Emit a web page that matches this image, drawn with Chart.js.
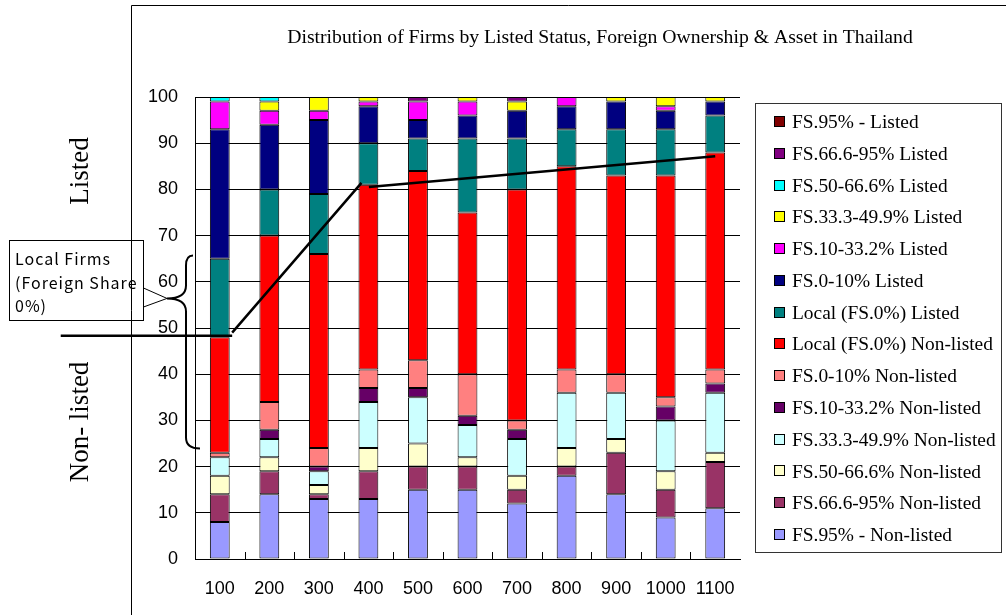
<!DOCTYPE html>
<html>
<head>
<meta charset="utf-8">
<script src="https://cdn.jsdelivr.net/npm/chart.js@4/dist/chart.umd.min.js"></script>
<style>
  html, body { margin: 0; padding: 0; background: #fff; }
</style>
</head>
<body>
<canvas id="grafico" width="1006" height="615"></canvas>
<script>
// categorias (ativo)
const categorias = ['100', '200', '300', '400', '500', '600', '700', '800', '900', '1000', '1100'];

// séries de baixo para cima (%)
const fs95NaoListada     = [8, 14, 13, 13, 15, 15, 12, 18, 14, 9, 11];
const fs666NaoListada    = [6, 5, 1, 6, 5, 5, 3, 2, 9, 6, 10];
const fs50NaoListada     = [4, 3, 2, 5, 5, 2, 3, 4, 3, 4, 2];
const fs333NaoListada    = [4, 4, 3, 10, 10, 7, 8, 12, 10, 11, 13];
const fs10NaoListada     = [0, 2, 1, 3, 2, 2, 2, 0, 0, 3, 2];
const fs0NaoListada      = [1, 6, 4, 4, 6, 9, 2, 5, 4, 2, 3];
const localNaoListada    = [25, 36, 42, 40, 41, 35, 50, 44, 43, 48, 47];
const localListada       = [17, 10, 13, 9, 7, 16, 11, 8, 10, 10, 8];
const fs0Listada         = [28, 14, 16, 8, 4, 5, 6, 5, 6, 4, 3];
const fs10Listada        = [6, 3, 2, 1, 4, 3, 0, 2, 0, 1, 0];
const fs333Listada       = [0, 2, 3, 1, 0, 1, 2, 0, 1, 2, 1];
const fs50Listada        = [1, 1, 0, 0, 0, 0, 0, 0, 0, 0, 0];
const fs666Listada       = [0, 0, 0, 0, 1, 0, 1, 0, 0, 0, 0];
const fs95Listada        = [0, 0, 0, 0, 0, 0, 0, 0, 0, 0, 0];

const yTicks = [0, 10, 20, 30, 40, 50, 60, 70, 80, 90, 100];

const titulo = 'Distribution of Firms by Listed Status, Foreign Ownership & Asset in Thailand';
const notaLocal = ['Local Firms', '(Foreign Share', '0%)'];

const series = [
  { label: 'FS.95% - Non-listed',       data: fs95NaoListada,  cor: '#9999FF' },
  { label: 'FS.66.6-95% Non-listed',    data: fs666NaoListada, cor: '#993366' },
  { label: 'FS.50-66.6% Non-listed',    data: fs50NaoListada,  cor: '#FFFFCC' },
  { label: 'FS.33.3-49.9% Non-listed',  data: fs333NaoListada, cor: '#CCFFFF' },
  { label: 'FS.10-33.2% Non-listed',    data: fs10NaoListada,  cor: '#660066' },
  { label: 'FS.0-10% Non-listed',       data: fs0NaoListada,   cor: '#FF8080' },
  { label: 'Local (FS.0%) Non-listed',  data: localNaoListada, cor: '#FF0000' },
  { label: 'Local (FS.0%) Listed',      data: localListada,    cor: '#008080' },
  { label: 'FS.0-10% Listed',           data: fs0Listada,      cor: '#000080' },
  { label: 'FS.10-33.2% Listed',        data: fs10Listada,     cor: '#FF00FF' },
  { label: 'FS.33.3-49.9% Listed',      data: fs333Listada,    cor: '#FFFF00' },
  { label: 'FS.50-66.6% Listed',        data: fs50Listada,     cor: '#00FFFF' },
  { label: 'FS.66.6-95% Listed',        data: fs666Listada,    cor: '#800080' },
  { label: 'FS.95% - Listed',           data: fs95Listada,     cor: '#800000' }
];

// desenhos extras: título, legenda, chave e linhas à mão
const extras = {
  id: 'extras',
  afterDraw(chart) {
    const ctx = chart.ctx;
    const sx = chart.scales.x, sy = chart.scales.y;
    const area = chart.chartArea;
    ctx.save();

    // moldura externa
    ctx.strokeStyle = '#000';
    ctx.lineWidth = 1;
    ctx.beginPath();
    ctx.moveTo(131.5, 615);
    ctx.lineTo(131.5, 5.5);
    ctx.lineTo(1006, 5.5);
    ctx.stroke();

    // título
    ctx.fillStyle = '#000';
    ctx.font = '19.7px "Liberation Serif"';
    ctx.textAlign = 'center';
    ctx.textBaseline = 'middle';
    ctx.fillText(titulo, 600, 38);

    // pequenos traços no eixo x
    ctx.beginPath();
    for (let i = 0; i < categorias.length - 1; i++) {
      const px = Math.round((sx.getPixelForValue(i) + sx.getPixelForValue(i + 1)) / 2) + 0.5;
      ctx.moveTo(px, area.bottom);
      ctx.lineTo(px, area.bottom - 7);
    }
    ctx.stroke();

    // legenda
    ctx.strokeStyle = '#333';
    ctx.strokeRect(755.5, 103.5, 246, 449);
    ctx.font = '19.4px "Liberation Serif"';
    ctx.textAlign = 'left';
    const itens = chart.data.datasets.slice().reverse();
    itens.forEach((ds, i) => {
      const cy = 122 + i * 31.77;
      ctx.fillStyle = ds.backgroundColor;
      ctx.fillRect(774, Math.round(cy - 6), 11, 11);
      ctx.strokeStyle = '#000';
      ctx.strokeRect(774.5, Math.round(cy - 6) + 0.5, 10, 10);
      ctx.fillStyle = '#000';
      ctx.fillText(ds.label, 792, cy + 1);
    });

    // textos laterais
    ctx.font = '27px "Liberation Serif"';
    ctx.textAlign = 'center';
    ctx.save();
    ctx.translate(81, 171);
    ctx.rotate(-Math.PI / 2);
    ctx.fillText('Listed', 0, 0);
    ctx.restore();
    ctx.save();
    ctx.translate(81, 422);
    ctx.rotate(-Math.PI / 2);
    ctx.fillText('Non- listed', 0, 0);
    ctx.restore();

    // linhas ligando os topos das firmas locais
    ctx.strokeStyle = '#000';
    ctx.lineWidth = 2.5;
    ctx.beginPath();
    ctx.moveTo(sx.getPixelForValue(-3.21), sy.getPixelForValue(48.3));
    ctx.lineTo(sx.getPixelForValue(0.25), sy.getPixelForValue(48.3));
    ctx.moveTo(sx.getPixelForValue(0.25), sy.getPixelForValue(49.0));
    ctx.lineTo(sx.getPixelForValue(2.86), sy.getPixelForValue(81.4));
    ctx.moveTo(sx.getPixelForValue(3.01), sy.getPixelForValue(80.5));
    ctx.lineTo(sx.getPixelForValue(10.0), sy.getPixelForValue(87.2));
    ctx.stroke();

    // chave
    const top = sy.getPixelForValue(65.7);
    const tip = sy.getPixelForValue(56.4);
    const bot = sy.getPixelForValue(23.9);
    const bx = area.left - 9;
    ctx.lineWidth = 2;
    ctx.beginPath();
    ctx.moveTo(bx + 7, top);
    ctx.quadraticCurveTo(bx, top, bx, top + 10);
    ctx.lineTo(bx, tip - 13);
    ctx.quadraticCurveTo(bx, tip, bx - 19, tip);
    ctx.quadraticCurveTo(bx, tip, bx, tip + 13);
    ctx.lineTo(bx, bot - 11);
    ctx.quadraticCurveTo(bx, bot, bx + 14, bot);
    ctx.stroke();

    // caixa de nota
    ctx.lineWidth = 1;
    ctx.beginPath();
    ctx.moveTo(143.5, 288);
    ctx.lineTo(bx - 19, tip);
    ctx.lineTo(143.5, 307);
    ctx.stroke();
    ctx.strokeRect(9.5, 240.5, 134, 80);
    ctx.font = '16px "Noto Sans CJK JP"';
    ctx.textAlign = 'left';
    ctx.textBaseline = 'alphabetic';
    if ('letterSpacing' in ctx) ctx.letterSpacing = '1px';
    notaLocal.forEach((t, i) => ctx.fillText(t, 15, 265 + i * 23.5));
    ctx.restore();
  }
};

new Chart(document.getElementById('grafico'), {
  type: 'bar',
  data: {
    labels: categorias,
    datasets: series.map(s => ({
      label: s.label,
      data: s.data,
      backgroundColor: s.cor,
      borderColor: '#000',
      borderWidth: 1,
      borderSkipped: false,
      barPercentage: 0.4,
      categoryPercentage: 1
    }))
  },
  options: {
    responsive: false,
    animation: false,
    devicePixelRatio: 1,
    layout: { padding: { left: 0, right: 266, top: 97, bottom: 0 } },
    plugins: {
      legend: { display: false },
      title: { display: false },
      tooltip: { enabled: false }
    },
    scales: {
      x: {
        stacked: true,
        grid: { display: false },
        border: { display: true, color: '#000', width: 1 },
        ticks: { color: '#000', padding: 11, font: { family: 'Liberation Sans', size: 18 } },
        afterFit: s => { s.height = 56; }
      },
      y: {
        stacked: true,
        min: 0,
        max: 100,
        afterBuildTicks: s => { s.ticks = yTicks.map(v => ({ value: v })); },
        grid: { color: '#000', lineWidth: 1, drawTicks: false },
        border: { display: true, color: '#000', width: 1 },
        ticks: { color: '#000', padding: 17, font: { family: 'Liberation Sans', size: 18 } },
        afterFit: s => { s.width = 195; }
      }
    }
  },
  plugins: [extras]
});
</script>
</body>
</html>
